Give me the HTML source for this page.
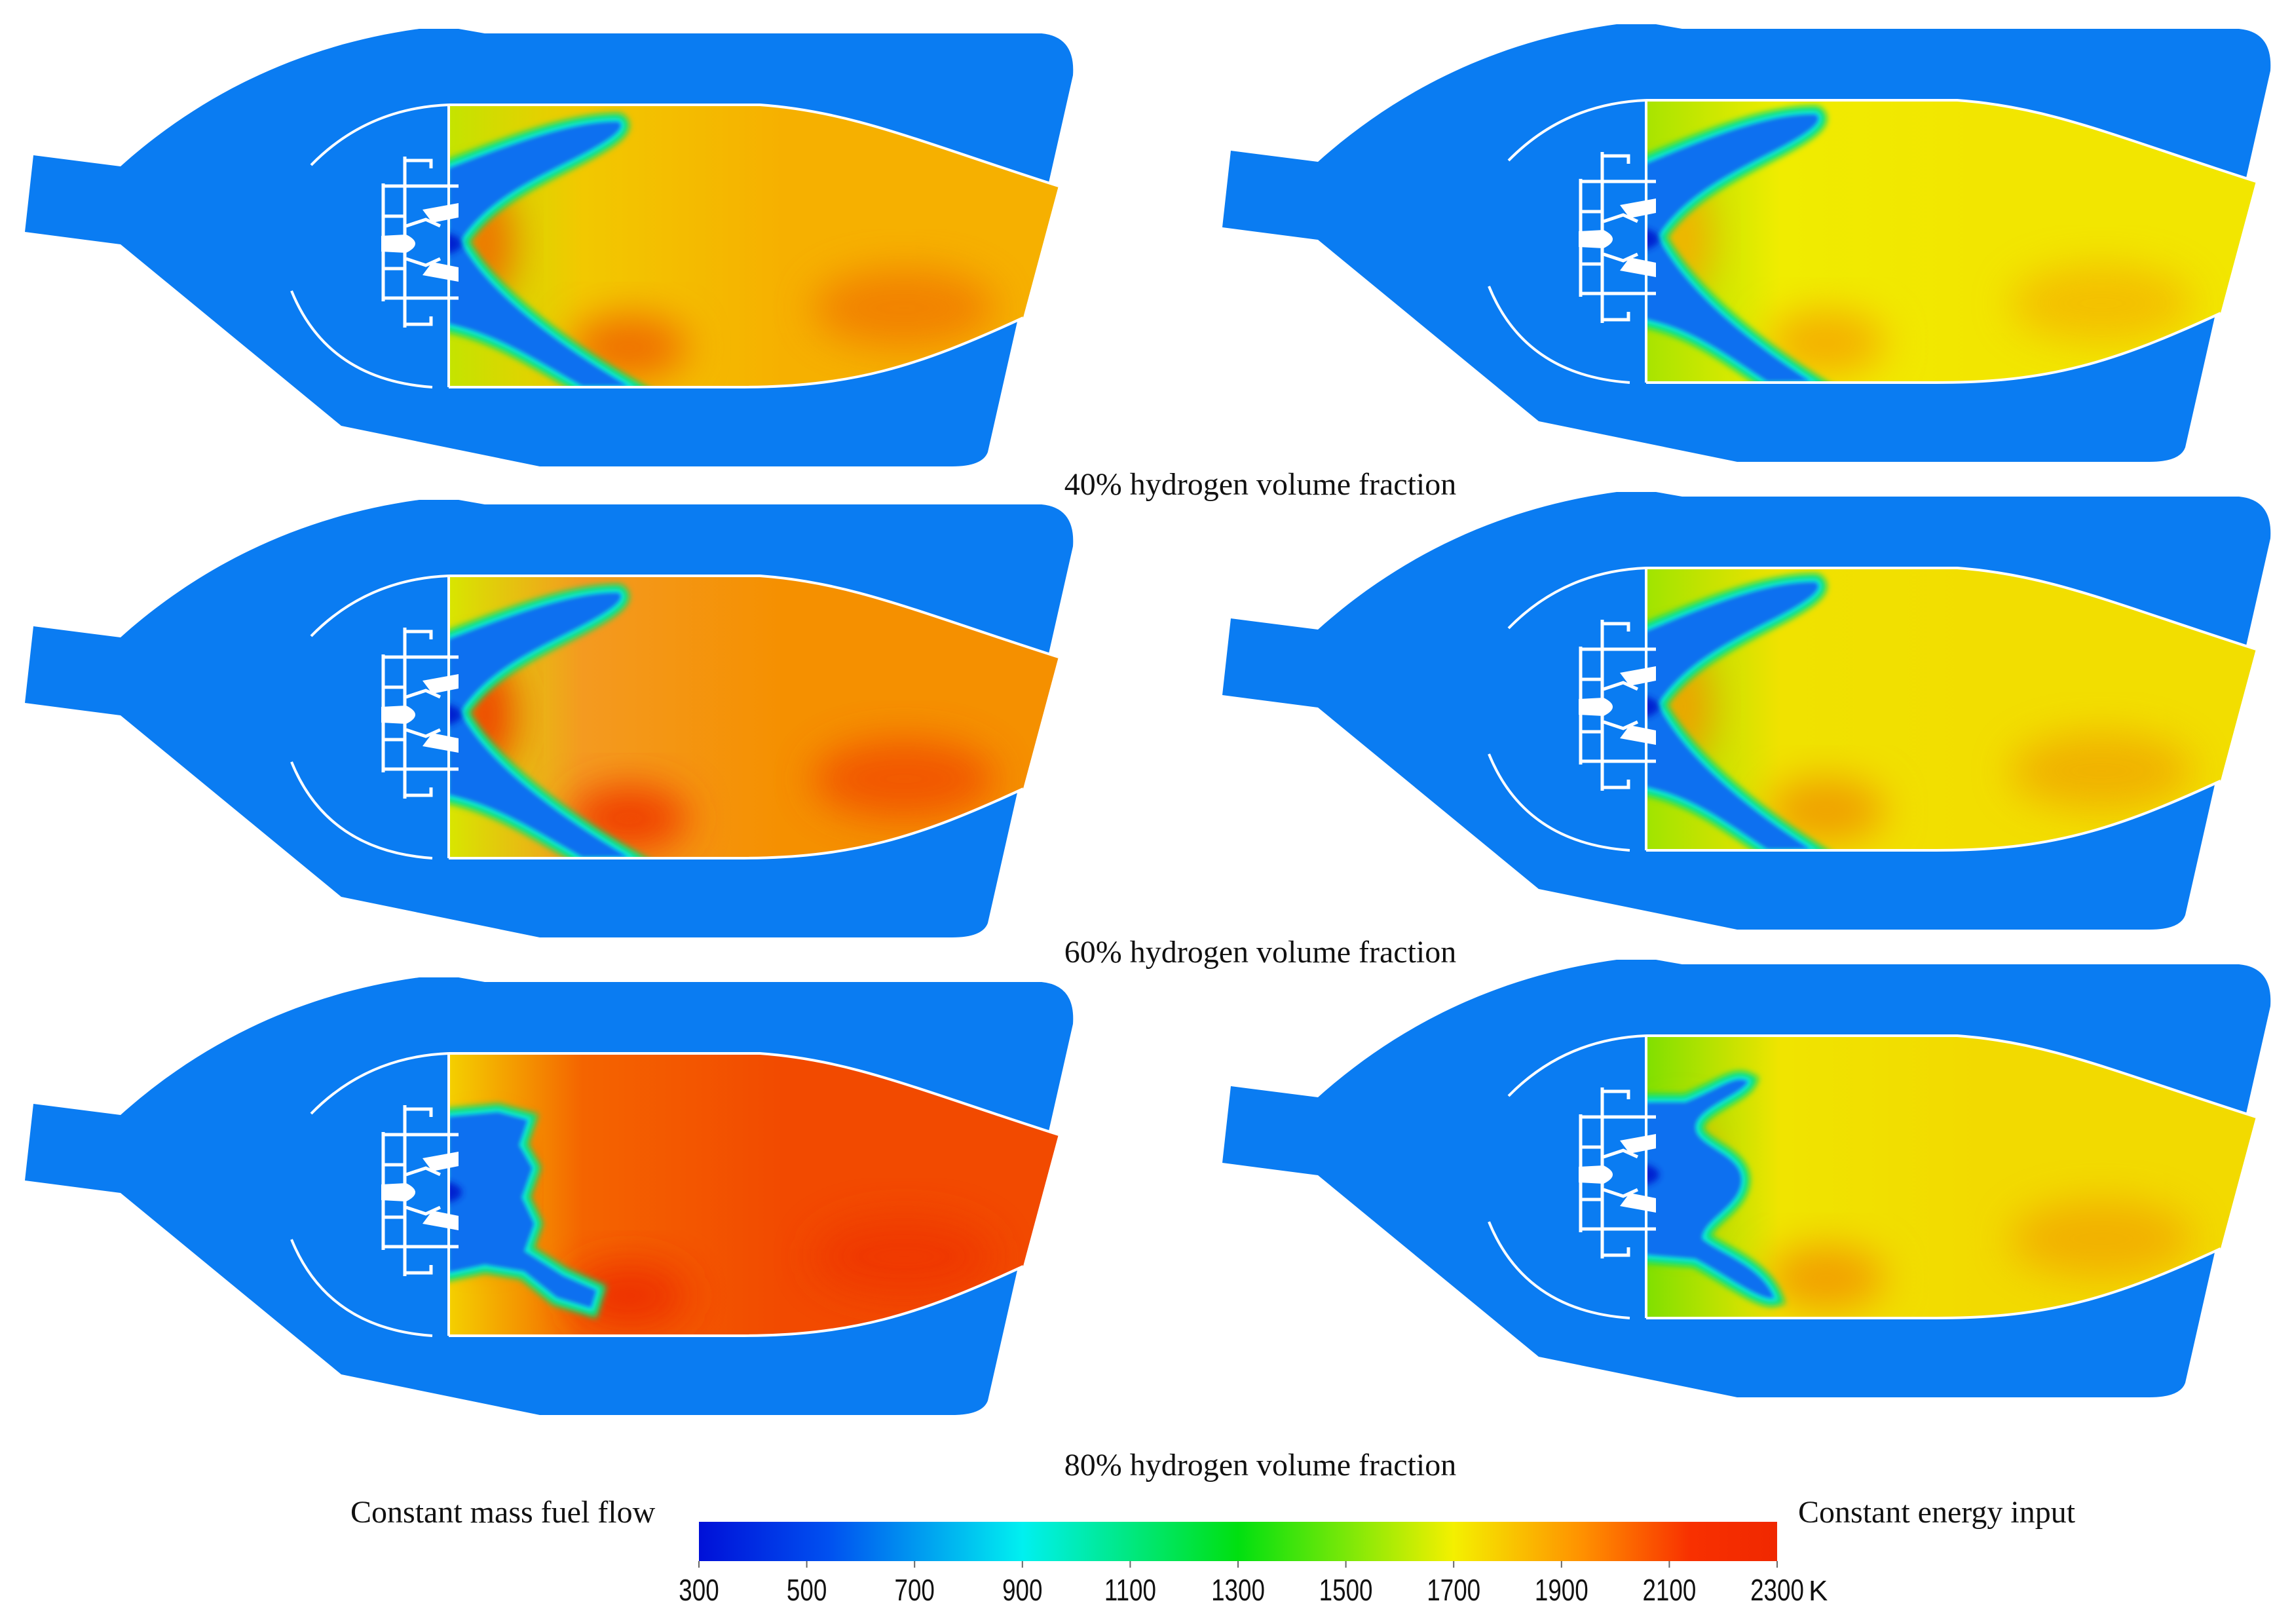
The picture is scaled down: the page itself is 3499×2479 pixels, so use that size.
<!DOCTYPE html>
<html><head><meta charset="utf-8">
<style>
html,body{margin:0;padding:0;background:#fff;}
svg{display:block;}
.lbl{font-family:"Liberation Serif",serif;fill:#111;}
.tick{font-family:"Liberation Sans",sans-serif;fill:#111;}
</style></head>
<body>
<svg id="fig" width="3499" height="2479" viewBox="0 0 3499 2479" xmlns="http://www.w3.org/2000/svg">
<defs>
<filter id="blur" x="-20%" y="-20%" width="140%" height="140%"><feGaussianBlur stdDeviation="5"/></filter>
<filter id="blurBig" x="-50%" y="-50%" width="200%" height="200%"><feGaussianBlur stdDeviation="30"/></filter>
<filter id="blurS" x="-20%" y="-20%" width="140%" height="140%"><feGaussianBlur stdDeviation="3"/></filter>
<linearGradient id="cbar" x1="0" y1="0" x2="1" y2="0">
<stop offset="0" stop-color="#0010d8"/>
<stop offset="0.12" stop-color="#0050f0"/>
<stop offset="0.3" stop-color="#00f0f0"/>
<stop offset="0.5" stop-color="#00e010"/>
<stop offset="0.7" stop-color="#f4f000"/>
<stop offset="0.82" stop-color="#ff9000"/>
<stop offset="0.92" stop-color="#f83000"/>
<stop offset="1" stop-color="#f02800"/>
</linearGradient>
</defs>
<g id="panels"></g>
<text class="lbl" x="1924" y="755" font-size="48" text-anchor="middle">40%  hydrogen volume fraction</text>
<text class="lbl" x="1924" y="1469" font-size="48" text-anchor="middle">60%  hydrogen volume fraction</text>
<text class="lbl" x="1924" y="2252" font-size="48" text-anchor="middle">80%  hydrogen volume fraction</text>
<text class="lbl" x="535" y="2324" font-size="48">Constant  mass fuel flow</text>
<text class="lbl" x="2745" y="2324" font-size="48">Constant  energy input</text>
<g id="colorbar"></g>
</svg>
<script>
var NS="http://www.w3.org/2000/svg";
// colorbar data
var tickValues=[300,500,700,900,1100,1300,1500,1700,1900,2100,2300];
var tickLabels=["300","500","700","900","1100","1300","1500","1700","1900","2100","2300"];
var unitLabel="K";
// panel data: temperature tone per case
var caseNames=["40-mass","40-energy","60-mass","60-energy","80-mass","80-energy"];
var baseColors=["#f6b000","#f2e600","#f59000","#f2de00","#f24a00","#f2da00"];
var midColors=["#f2c800","#f0ec00","#f49a20","#f0e200","#f46400","#f0e400"];
var leftColors=["#c4e400","#a8e400","#d8e600","#a0e400","#f4d000","#80e000"];
var hotColors=["#f07000","#f4b000","#f04000","#f0a000","#ee3000","#f2a000"];

function mk(tag,attrs,parent){var e=document.createElementNS(NS,tag);for(var k in attrs)e.setAttribute(k,attrs[k]);parent.appendChild(e);return e;}

var outerD="M51,237 L184,254 C300,150 450,70 640,44 L700,44 L740,51 L1590,51 Q1642,56 1638,115 L1508,690 Q1500,712 1453,712 L824,712 L521,650 L184,373 L38,354 Z";
var chamberD="M685,160 L1160,160 C1300,170 1400,215 1616,284 L1562,485 C1400,560 1300,591 1128,591 L685,591 Z";
var flameV="M685,257 C770,225 870,185 944,186 C958,195 930,215 870,245 C800,280 740,310 702,368 C740,440 840,520 958,589 L889,589 C820,550 760,510 685,494 Z";
var flameVb="M685,257 C770,222 870,180 944,182 C958,192 930,212 870,242 C800,278 740,310 702,368 C740,440 820,515 935,589 L870,589 C810,550 760,510 685,494 Z";
var flameBlob="M685,257 L760,250 L805,262 L792,300 L812,335 L796,380 L815,420 L800,462 L860,500 L910,522 L902,548 L850,532 L800,492 L740,482 L685,494 Z";
var flameC="M685,262 L745,262 C800,240 820,220 840,230 C830,250 760,270 760,300 C760,330 830,340 830,380 C830,420 770,440 770,470 C790,490 860,510 880,560 C860,565 800,520 760,500 L685,494 Z";
var flames=[flameV,flameVb,flameV,flameVb,flameBlob,flameC];
var offX=[0,1828,0,1828,0,1828];
var offY=[0,-7,719,707,1448,1421];

var root=document.getElementById("panels");
for(var i=0;i<6;i++){
  var g=mk("g",{transform:"translate("+offX[i]+","+offY[i]+")"},root);
  
  
  var cid="clip"+i;
  var cp=mk("clipPath",{id:cid},g);
  mk("path",{d:chamberD},cp);
  var gr=mk("linearGradient",{id:"grad"+i,x1:"685",y1:"0",x2:"1616",y2:"0",gradientUnits:"userSpaceOnUse"},g);
  mk("stop",{offset:"0","stop-color":leftColors[i]},gr);
  mk("stop",{offset:"0.22","stop-color":midColors[i]},gr);
  mk("stop",{offset:"0.55","stop-color":baseColors[i]},gr);
  mk("stop",{offset:"1","stop-color":baseColors[i]},gr);
  var casing=mk("path",{d:outerD,fill:"#0a7cf2"},g);
  
  
  var inner=mk("g",{"clip-path":"url(#"+cid+")"},g);
  
  
  mk("path",{d:chamberD,fill:"url(#grad"+i+")"},inner);
  mk("ellipse",{cx:"960",cy:"530",rx:"90",ry:"50",fill:hotColors[i],filter:"url(#blurBig)"},inner);
  mk("ellipse",{cx:"1380",cy:"470",rx:"140",ry:"60",fill:hotColors[i],filter:"url(#blurBig)",opacity:"0.7"},inner);
  mk("ellipse",{cx:"740",cy:"372",rx:"45",ry:"90",fill:hotColors[i],filter:"url(#blurBig)"},inner);
  mk("path",{d:flames[i],fill:"none",stroke:"#10e060","stroke-width":"26",filter:"url(#blur)"},inner);
  mk("path",{d:flames[i],fill:"none",stroke:"#10e8f0","stroke-width":"12",filter:"url(#blur)"},inner);
  var fl=mk("path",{d:flames[i],fill:"#0a70f0",filter:"url(#blurS)"},inner);
  
  
  mk("ellipse",{cx:"665",cy:"372",rx:"40",ry:"18",fill:"#0020d0",filter:"url(#blur)"},inner);
  var liner=mk("path",{d:"M685,160 L1160,160 C1300,170 1400,215 1616,284 M1562,485 C1400,560 1300,591 1128,591 L685,591 M685,160 L685,591",fill:"none",stroke:"#fff","stroke-width":"4"},g);
  
  
  var dome=mk("path",{d:"M475,252 Q560,165 685,160 M445,444 Q500,580 660,591",fill:"none",stroke:"#fff","stroke-width":"4"},g);
  
  
  var inj=mk("g",{stroke:"#fff","stroke-width":"5",fill:"#fff"},g);
  
  
  mk("path",{d:"M618,239 L618,500 M618,245 L658,245 L658,257 M618,495 L658,495 L658,483 M585,280 L585,460 M585,284 L700,284 M585,455 L700,455 M585,330 L620,330 M585,410 L620,410 M620,345 L650,335 L672,345 M620,395 L650,405 L672,395",fill:"none"},inj);
  mk("path",{d:"M645,320 L700,310 L700,332 L660,340 Z M645,420 L700,430 L700,408 L660,400 Z",stroke:"none"},inj);
  mk("path",{d:"M582,360 L620,358 Q648,372 620,386 L582,384 Z",stroke:"none"},inj);
}

// colorbar
var cb=document.getElementById("colorbar");
var bx0=1067,bx1=2713,by0=2323,by1=2383;
var tMin=tickValues[0],tMax=tickValues[tickValues.length-1];
function xs(v){return bx0+(v-tMin)/(tMax-tMin)*(bx1-bx0);}
var bar=mk("rect",{x:bx0,y:by0,width:bx1-bx0,height:by1-by0,fill:"url(#cbar)"},cb);


for(var t=0;t<tickValues.length;t++){
  var tx=xs(tickValues[t]);
  var tl=mk("line",{x1:tx,y1:by1,x2:tx,y2:by1+10,stroke:"#666","stroke-width":"2"},cb);
  
  
  var lab=mk("text",{x:tx,y:2443,"font-size":"46","text-anchor":"middle","class":"tick",transform:"translate("+tx+",0) scale(0.8,1) translate("+(-tx)+",0)"},cb);
  lab.textContent=tickLabels[t];
  
  
}
var u=mk("text",{x:xs(tMax)+48,y:2443,"font-size":"44","class":"tick"},cb);
u.textContent=unitLabel;


</script>
</body></html>
